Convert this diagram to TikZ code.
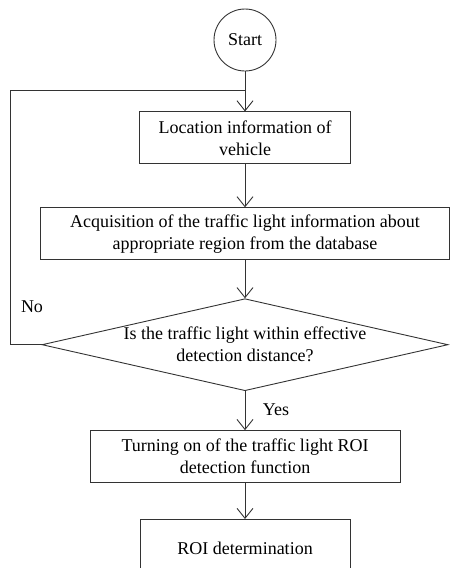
\documentclass[tikz,border=0pt]{standalone}
\usepackage{xcolor}
\usepackage{fontspec}
\setmainfont{Liberation Serif}
\usepackage{tikz}
\usetikzlibrary{arrows.meta}
\usetikzlibrary{positioning}
\usetikzlibrary{shapes.geometric}

\tikzset{
  flowbox/.style={draw=black!80, line width=0.9pt, align=center, inner sep=0pt},
  flowline/.style={draw=black!80, line width=0.9pt},
}

\begin{document}
\begin{tikzpicture}[x=1pt,y=-1pt,node distance=40pt,
  font=\fontsize{18}{22}\selectfont,
  >={Straight Barb[length=10pt,width=16pt]}]
\useasboundingbox (0,0) rectangle (450,568);
\clip (0,0) rectangle (450,568);
\node at (245,40) (start) [flowbox, circle, minimum size=62pt] {Start};
\node (loc) [flowbox, below=40pt of start, minimum width=211pt, minimum height=52pt] {Location information of\\vehicle};
\node (acq) [flowbox, below=43pt of loc, minimum width=409pt, minimum height=52pt] {Acquisition of the traffic light information about\\appropriate region from the database};
\node (dec) [flowbox, diamond, aspect=4.41, below=38pt of acq, minimum width=406pt, minimum height=92pt, inner xsep=-10pt] {Is the traffic light within effective\\detection distance?};
\node (roi) [flowbox, below=39pt of dec, minimum width=310pt, minimum height=52pt] {Turning on of the traffic light ROI\\detection function};
\node (det) [flowbox, below=36pt of roi, minimum width=210pt, minimum height=58pt] {ROI determination};
\node at (32,307) (no) {No};
\node at (276,410) (yes) {Yes};
\coordinate (lp) at (10,90);
\coordinate (mp) at (start |- lp);
\path[flowline,->] (start) edge (loc);
\path[flowline,->] (loc) edge (acq);
\path[flowline,->] (acq) edge (dec);
\path[flowline,->] (dec) edge (roi);
\path[flowline,->] (roi) edge (det);
\draw[flowline] (dec.west) -| (lp) -- (mp);
\end{tikzpicture}
\end{document}
